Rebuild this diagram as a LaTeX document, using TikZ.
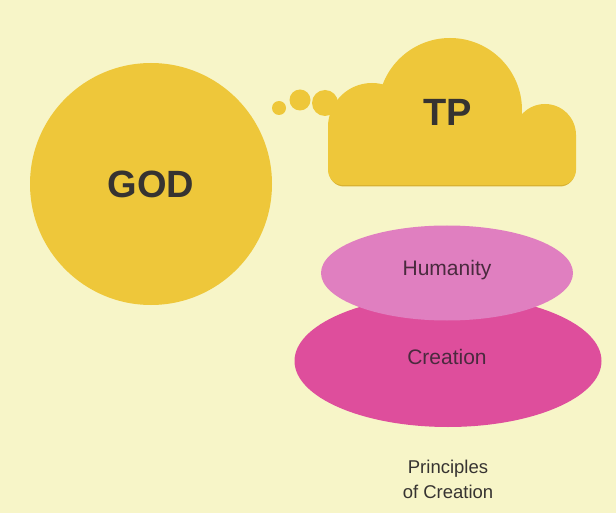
\documentclass[tikz,border=0pt]{standalone}
\usepackage{fontspec}
\setmainfont{Liberation Sans}
\usetikzlibrary{shapes.geometric}
\definecolor{bg}{HTML}{F7F5C8}
\definecolor{gold}{HTML}{EEC73A}
\definecolor{goldshade}{HTML}{D9B232}
\definecolor{pinklight}{HTML}{E07FC0}
\definecolor{pinkdeep}{HTML}{DE4E9C}
\definecolor{ink}{HTML}{363331}
\definecolor{inkpink}{HTML}{4A2A3E}
\tikzset{
  goldfill/.style={fill=gold, draw=none},
  bigtext/.style={font=\fontsize{38}{40}\selectfont\bfseries, text=ink},
  ovaltext/.style={font=\fontsize{21}{23}\selectfont, text=inkpink},
  notetext/.style={font=\fontsize{18.5}{25}\selectfont, text=ink, align=center},
}
\begin{document}
\begin{tikzpicture}[x=1pt,y=-1pt]
\fill[bg] (0,0) rectangle (616,513);
\useasboundingbox (0,0) rectangle (616,513);
% GOD circle
\node[circle, goldfill, minimum size=242pt, inner sep=0pt] (god) at (151,184) {};
\node[bigtext] (godlabel) at (god.center) {GOD};
% thought dots
\node[circle, goldfill, minimum size=14pt, inner sep=0pt] (dot1) at (279,108) {};
\node[circle, goldfill, minimum size=21pt, inner sep=0pt] (dot2) at (300,100) {};
\node[circle, goldfill, minimum size=26pt, inner sep=0pt] (dot3) at (325,103) {};
% cloud (with a faint shadow at its base)
\fill[goldshade] (329,130) {[rounded corners=15pt] -- (329,186.5) -- (575,186.5)} -- (575,135) -- cycle;
\fill[gold] (328,127) {[rounded corners=15pt] -- (328,185) -- (576,185)} -- (576,135) -- cycle;
\fill[gold] (372,127) circle[radius=44];
\fill[gold] (450,110) circle[radius=72];
\fill[gold] (545,135) circle[radius=31];
\coordinate (cloud) at (448,112);
\node[bigtext] (tp) at (cloud) {TP};
% ellipses
\node[ellipse, fill=pinkdeep, minimum width=307pt, minimum height=132pt, inner sep=0pt] (creation) at (448,361) {};
\node[ellipse, fill=pinklight, minimum width=252pt, minimum height=95pt, inner sep=0pt] (humanity) at (447,273) {};
\node[ovaltext] (humlabel) at (447,270) {Humanity};
\node[ovaltext] (crelabel) at (447,357) {Creation};
\node[notetext] (principles) at (448,479) {Principles\\of Creation};
\end{tikzpicture}
\end{document}
